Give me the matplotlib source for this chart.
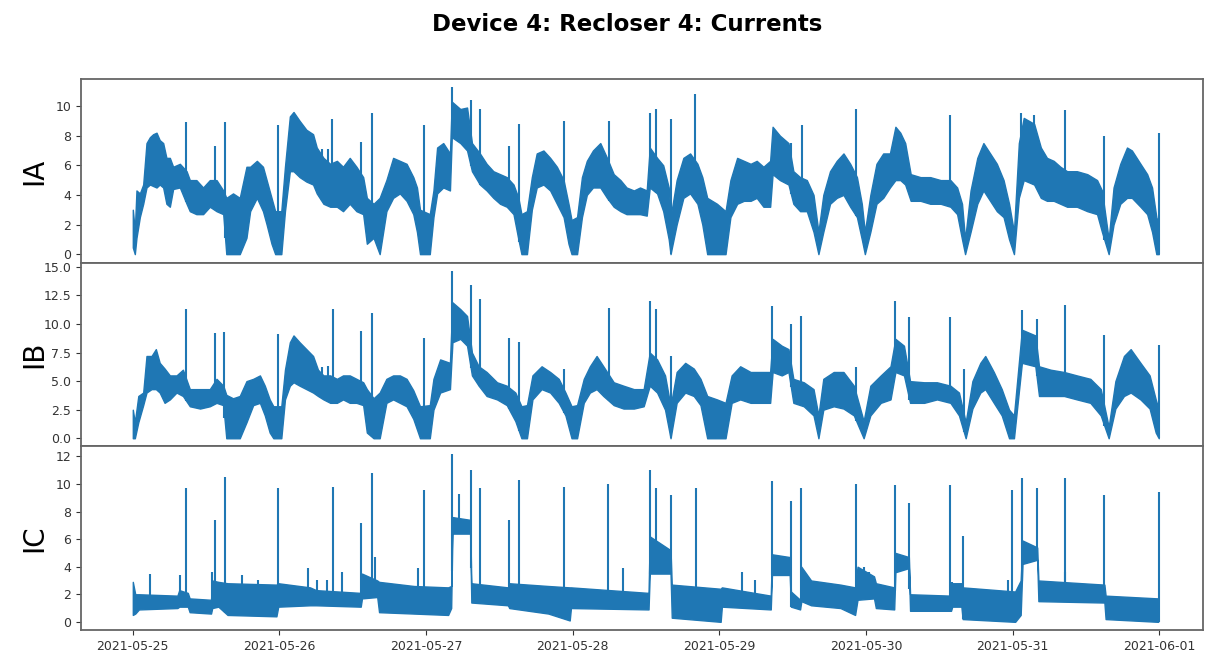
import matplotlib
matplotlib.use("Agg")
import matplotlib.pyplot as plt
import numpy as np
import pandas as pd

start = pd.Timestamp("2021-05-25 00:00")

# envelope of each phase current: hours since start, low, high
ia_h = [0.0, 0.33, 0.6, 1.15, 1.7, 2.24, 2.8, 3.33, 3.88, 4.4,
        4.97, 5.5, 6.06, 6.6, 7.7, 8.8, 9.33, 10.4, 11.5, 12.6,
        13.7, 14.8, 15.3, 16.4, 17.5, 18.6, 19.2, 20.3, 21.3, 21.9,
        22.7, 23.3, 24.3, 24.9, 25.7, 26.3, 27.3, 28.4, 29.5, 30.1,
        31.2, 32.3, 33.4, 34.4, 35.5, 36.6, 37.7, 38.3, 39.4, 40.4,
        41.5, 42.6, 43.7, 44.8, 45.9, 46.5, 47.0, 48.6, 49.2, 49.8,
        50.8, 51.9, 52.2, 53.6, 54.7, 55.5, 56.8, 57.9, 59.0, 60.1,
        61.2, 62.3, 63.1, 63.6, 64.5, 65.3, 66.1, 67.2, 68.3, 69.4,
        70.5, 71.3, 71.8, 72.7, 73.5, 74.3, 75.3, 76.5, 77.6, 78.7,
        79.8, 80.8, 82.0, 83.0, 84.1, 84.6, 85.8, 86.8, 87.7, 88.0,
        89.0, 90.1, 91.2, 92.4, 93.2, 94.0, 95.6, 97.0, 97.8, 98.9,
        100.0, 101.1, 102.1, 103.2, 104.3, 104.7, 105.9, 107.3, 108.1, 109.2,
        110.3, 111.4, 112.2, 113.0, 114.1, 115.2, 116.3, 117.4, 118.5, 119.3,
        119.8, 120.7, 121.7, 122.8, 123.9, 124.8, 125.6, 126.4, 127.3, 128.9,
        130.5, 132.2, 133.8, 134.9, 135.7, 136.2, 137.1, 138.2, 139.2, 140.3,
        141.4, 142.5, 143.4, 144.2, 145.0, 145.8, 147.5, 148.6, 149.6, 150.7,
        151.8, 152.9, 154.5, 156.2, 157.8, 158.6, 159.7, 160.5, 161.6, 162.7,
        163.5, 164.9, 166.0, 166.8, 167.5, 167.9]
ia_lo = [0.45, 0.0, 1.1, 2.5, 3.4, 4.5, 4.7, 4.6, 4.5, 4.7,
         4.5, 3.4, 3.2, 4.4, 4.5, 3.4, 2.9, 2.7, 2.7, 3.2,
         2.9, 2.7, 0.0, 0.0, 0.0, 1.1, 2.9, 3.8, 2.9, 2.0,
         0.7, 0.0, 0.0, 2.9, 5.6, 5.6, 5.2, 4.9, 4.7, 4.1,
         3.4, 3.2, 3.2, 2.9, 3.4, 2.9, 2.7, 0.7, 1.1, 0.0,
         2.9, 3.8, 4.1, 3.6, 2.7, 1.5, 0.0, 0.0, 2.5, 4.1,
         4.5, 4.3, 7.9, 7.5, 7.0, 5.6, 4.7, 4.3, 3.8, 3.4,
         3.2, 2.7, 1.0, 0.0, 0.0, 3.0, 4.5, 4.7, 4.3, 3.4,
         2.5, 0.7, 0.0, 0.0, 2.5, 4.0, 4.5, 4.5, 3.8, 3.2,
         2.9, 2.7, 2.7, 2.7, 2.6, 4.5, 4.1, 2.9, 1.0, 0.0,
         2.0, 3.8, 4.1, 3.4, 2.0, 0.0, 0.0, 0.0, 2.5, 3.4,
         3.6, 3.6, 3.8, 3.2, 3.2, 5.4, 5.0, 4.7, 3.4, 2.9,
         2.9, 1.5, 0.0, 1.5, 3.4, 3.8, 4.0, 3.2, 2.5, 1.0,
         0.0, 1.5, 3.4, 3.8, 4.5, 5.0, 5.0, 4.7, 3.6, 3.6,
         3.4, 3.4, 3.2, 2.7, 1.0, 0.0, 1.5, 3.4, 4.3, 3.6,
         2.9, 2.5, 1.0, 0.0, 3.8, 5.0, 4.7, 3.8, 3.6, 3.6,
         3.4, 3.2, 3.2, 2.9, 2.7, 1.5, 0.0, 2.0, 3.4, 3.8,
         3.8, 3.2, 2.7, 1.5, 0.0, 0.0]
ia_hi = [3.0, 1.6, 4.3, 4.1, 4.7, 7.5, 7.9, 8.1, 8.2, 7.7,
         7.5, 6.5, 6.5, 5.9, 6.1, 5.6, 5.0, 5.0, 4.5, 5.0,
         5.0, 4.3, 3.8, 4.1, 3.8, 5.9, 5.9, 6.3, 5.9, 5.0,
         3.8, 2.9, 2.9, 5.9, 9.3, 9.6, 9.0, 8.4, 8.1, 7.2,
         6.5, 6.1, 6.3, 5.9, 6.5, 5.9, 5.2, 3.8, 3.4, 3.8,
         5.0, 6.5, 6.3, 6.1, 5.2, 4.5, 3.0, 2.7, 4.3, 7.2,
         7.5, 6.8, 10.3, 9.8, 9.9, 7.5, 6.8, 6.1, 5.6, 5.4,
         5.2, 4.7, 3.8, 2.7, 2.9, 5.2, 6.8, 7.0, 6.5, 5.9,
         5.0, 3.4, 2.3, 2.5, 5.2, 6.3, 7.0, 7.5, 6.5, 5.4,
         5.0, 4.5, 4.3, 4.5, 4.3, 7.2, 6.5, 6.0, 4.5, 2.5,
         5.0, 6.5, 6.8, 6.1, 5.2, 3.8, 3.4, 2.9, 5.0, 6.5,
         6.3, 6.1, 6.3, 5.9, 6.3, 8.6, 8.0, 7.5, 5.6, 5.2,
         5.0, 4.0, 1.5, 4.0, 5.6, 6.3, 6.8, 6.1, 5.2, 3.4,
         1.5, 4.0, 6.1, 6.8, 6.8, 8.6, 8.2, 7.5, 5.4, 5.2,
         5.2, 5.0, 5.0, 4.5, 3.4, 1.0, 4.3, 6.5, 7.5, 6.8,
         6.1, 5.0, 3.4, 1.5, 7.5, 9.2, 8.8, 7.2, 6.5, 6.3,
         5.9, 5.6, 5.6, 5.4, 5.0, 4.3, 1.0, 4.5, 6.1, 7.2,
         7.0, 6.1, 5.4, 4.5, 2.5, 2.0]
ia_spike_h = [8.7, 13.4, 15.1, 23.8, 30.9, 32.0, 32.6, 37.4, 39.1, 47.7, 52.2, 55.3, 56.8,
              61.5, 63.2, 70.5, 78.0, 84.6, 85.7, 88.0, 92.0, 107.7, 109.5, 118.4, 133.8,
              145.3, 147.5, 152.5, 159.0, 168.0]
ia_spike_v = [8.9, 7.3, 8.9, 8.7, 7.1, 7.1, 9.1, 7.6, 9.5, 8.7, 11.3, 10.4, 9.8,
              7.3, 8.8, 9.0, 9.0, 9.5, 9.8, 9.1, 10.8, 7.5, 8.7, 9.8, 9.4,
              9.5, 9.4, 9.7, 8.0, 8.2]

ib_h = [0.0, 0.33, 0.9, 1.7, 2.24, 3.06, 3.77, 4.4, 5.2, 6.06,
        7.15, 8.2, 9.33, 11.0, 12.6, 13.7, 14.8, 15.3, 16.4, 17.5,
        18.6, 19.7, 20.8, 21.6, 22.4, 23.0, 24.3, 24.9, 25.7, 26.3,
        27.3, 28.4, 29.5, 30.3, 31.2, 32.3, 33.4, 34.4, 35.5, 36.6,
        37.7, 38.3, 39.4, 40.4, 41.5, 42.6, 43.7, 44.8, 45.9, 47.0,
        48.6, 49.2, 50.3, 51.9, 52.3, 53.6, 54.7, 55.5, 56.6, 57.9,
        59.6, 61.2, 62.6, 63.6, 64.5, 65.4, 66.9, 68.3, 69.7, 70.8,
        71.8, 72.7, 73.8, 74.8, 75.9, 77.0, 78.7, 80.3, 82.0, 83.6,
        84.6, 85.8, 87.1, 88.0, 89.0, 90.4, 91.8, 92.9, 94.0, 95.6,
        97.0, 98.0, 99.4, 101.1, 102.7, 104.3, 104.7, 106.2, 107.3, 108.1,
        109.8, 111.4, 112.2, 113.0, 114.7, 116.3, 118.0, 119.6, 120.7, 122.4,
        124.0, 124.8, 126.2, 127.2, 129.5, 131.6, 133.8, 135.2, 136.3, 137.4,
        138.7, 139.5, 140.9, 142.2, 143.4, 144.2, 145.5, 147.7, 148.3, 150.2,
        152.4, 154.5, 156.7, 158.4, 159.7, 160.8, 162.2, 163.3, 164.9, 166.4,
        167.4, 167.9]
ib_lo = [0.0, 0.0, 1.4, 2.9, 4.0, 4.3, 4.3, 4.0, 3.1, 3.4,
         4.0, 3.7, 2.8, 2.6, 2.8, 3.1, 2.9, 0.0, 0.0, 0.0,
         1.4, 2.9, 3.1, 2.0, 0.5, 0.0, 0.0, 3.4, 4.6, 4.9,
         4.6, 4.3, 4.0, 3.7, 3.4, 3.1, 3.1, 3.4, 3.1, 3.1,
         2.9, 0.5, 0.0, 0.0, 3.1, 3.4, 3.1, 2.8, 1.7, 0.0,
         0.0, 2.5, 4.0, 4.3, 8.4, 8.7, 8.1, 5.5, 4.6, 3.7,
         3.4, 2.9, 1.5, 0.0, 0.0, 3.4, 4.3, 4.0, 3.1, 2.0,
         0.0, 0.0, 3.1, 4.0, 4.3, 3.7, 2.9, 2.6, 2.6, 2.8,
         4.6, 4.0, 2.5, 0.0, 3.1, 4.0, 3.7, 2.9, 0.0, 0.0,
         0.0, 3.1, 3.4, 3.1, 3.1, 3.1, 5.8, 5.5, 5.8, 3.1,
         2.8, 2.0, 0.0, 2.5, 2.8, 2.6, 2.0, 0.0, 2.0, 3.1,
         3.4, 5.8, 5.5, 3.1, 3.1, 3.4, 3.1, 2.0, 0.0, 2.6,
         4.0, 4.3, 3.1, 2.0, 0.0, 0.0, 6.6, 6.3, 3.7, 3.7,
         3.7, 3.4, 3.1, 2.0, 0.0, 2.6, 3.7, 4.0, 3.4, 2.6,
         0.5, 0.0]
ib_hi = [2.5, 1.4, 3.7, 4.0, 7.2, 7.2, 7.8, 6.6, 6.1, 5.5,
         5.5, 6.0, 4.3, 4.3, 4.3, 5.2, 4.6, 3.8, 3.5, 3.7,
         5.0, 5.2, 5.5, 4.6, 3.4, 2.8, 2.8, 6.0, 8.4, 9.0,
         8.4, 7.8, 7.2, 6.0, 5.5, 5.5, 5.2, 5.5, 5.5, 5.2,
         4.9, 4.3, 3.5, 4.0, 5.2, 5.5, 5.5, 5.2, 4.2, 2.8,
         2.9, 5.2, 6.9, 6.6, 11.9, 11.3, 10.7, 7.5, 6.3, 5.8,
         4.9, 4.6, 4.0, 2.8, 2.9, 5.5, 6.3, 5.8, 5.2, 4.0,
         2.8, 2.9, 5.2, 6.3, 7.2, 6.3, 4.9, 4.6, 4.3, 4.3,
         7.5, 6.9, 5.5, 2.8, 5.8, 6.6, 6.1, 5.2, 3.7, 3.4,
         3.1, 5.5, 6.3, 5.8, 5.8, 5.8, 8.7, 8.1, 7.8, 5.2,
         4.9, 4.3, 2.0, 5.2, 5.8, 5.8, 4.6, 1.5, 4.6, 5.5,
         6.3, 8.7, 8.1, 5.0, 4.9, 4.9, 4.6, 4.0, 1.4, 5.0,
         6.6, 7.2, 5.8, 4.3, 2.5, 2.0, 9.5, 9.0, 6.3, 6.0,
         5.8, 5.5, 5.2, 4.3, 1.0, 5.0, 7.2, 7.8, 6.6, 5.5,
         3.4, 2.5]
ib_spike_h = [8.7, 13.4, 15.0, 23.8, 30.9, 32.0, 32.7, 37.4, 39.1, 47.7, 52.2, 55.3, 56.8,
              61.5, 63.2, 70.6, 78.0, 84.6, 85.6, 88.0, 104.6, 107.7, 109.3, 118.4, 124.7,
              127.1, 133.8, 136.0, 145.5, 147.9, 152.5, 159.0, 168.0]
ib_spike_v = [11.3, 9.2, 9.3, 9.1, 6.2, 6.3, 11.3, 9.4, 11.0, 8.8, 14.6, 13.4, 12.2,
              8.8, 8.4, 6.1, 11.4, 12.0, 11.3, 7.2, 11.6, 10.0, 10.7, 6.2, 12.0,
              10.6, 10.6, 6.1, 11.2, 10.4, 11.7, 9.0, 8.2]

ic_h = [0.0, 0.4, 1.0, 7.3, 7.6, 9.0, 9.3, 12.8, 13.0, 14.0,
        15.5, 23.5, 23.8, 29.0, 30.0, 37.3, 37.5, 40.0, 40.3, 46.0,
        51.6, 52.1, 52.3, 55.2, 55.4, 61.4, 61.6, 68.0, 71.5, 71.7,
        84.4, 84.6, 88.0, 88.2, 96.2, 96.4, 104.4, 104.6, 107.5, 107.7,
        109.2, 109.4, 111.0, 115.8, 118.2, 118.6, 121.3, 121.6, 124.6, 124.8,
        127.0, 127.2, 133.9, 134.1, 135.6, 135.8, 144.4, 145.3, 145.6, 148.0,
        148.2, 159.0, 159.2, 167.8]
ic_lo = [0.5, 0.6, 0.9, 1.0, 1.1, 1.1, 0.7, 0.6, 1.0, 1.1,
         0.5, 0.4, 1.1, 1.2, 1.2, 1.1, 1.7, 1.8, 0.7, 0.6,
         0.5, 1.0, 6.4, 6.4, 1.4, 1.2, 1.0, 0.6, 0.1, 1.0,
         0.9, 3.5, 3.5, 0.3, 0.0, 1.1, 0.9, 3.4, 3.4, 1.1,
         0.9, 1.5, 1.2, 1.0, 0.5, 1.6, 1.7, 1.0, 0.9, 3.6,
         3.9, 0.8, 0.8, 1.1, 1.1, 0.2, 0.0, 0.5, 4.2, 4.5,
         1.5, 1.4, 0.2, 0.0]
ic_hi = [2.9, 2.0, 2.0, 1.9, 2.3, 2.1, 1.7, 1.6, 3.0, 2.9,
         2.8, 2.7, 2.8, 2.5, 2.3, 2.1, 3.5, 3.0, 2.9, 2.6,
         2.5, 2.6, 7.6, 7.4, 2.8, 2.5, 2.8, 2.6, 2.5, 2.5,
         2.1, 6.2, 5.2, 2.7, 2.4, 2.5, 1.9, 4.9, 4.7, 2.2,
         1.6, 4.0, 3.0, 2.7, 2.5, 4.0, 3.3, 2.8, 2.5, 5.0,
         4.7, 2.0, 1.9, 2.8, 2.8, 2.5, 2.2, 3.0, 5.9, 5.4,
         3.0, 2.7, 1.9, 1.7]
ic_spike_h = [2.8, 7.8, 8.7, 13.0, 13.4, 15.1, 17.8, 20.5, 23.8, 28.7, 30.1, 31.7, 32.7,
              34.2, 37.4, 39.1, 39.6, 46.7, 47.7, 52.2, 53.4, 55.3, 56.8, 61.5, 63.2, 70.6,
              77.8, 80.3, 84.6, 85.6, 88.0, 92.1, 99.7, 101.9, 104.6, 107.7, 109.3, 118.4,
              119.6, 120.4, 124.7, 127.1, 133.8, 134.1, 135.9, 143.3, 143.9, 145.5, 147.9,
              152.5, 152.6, 159.0, 168.0]
ic_spike_v = [3.5, 3.4, 9.7, 3.6, 7.4, 10.5, 3.4, 3.0, 9.7, 3.9, 3.0, 3.0, 9.8,
              3.6, 7.2, 10.8, 4.7, 3.9, 9.6, 12.2, 9.3, 11.0, 9.7, 7.4, 10.3, 9.8,
              10.0, 3.9, 11.0, 9.7, 9.2, 9.7, 3.6, 3.0, 10.2, 8.8, 9.7, 10.0,
              4.0, 3.6, 9.9, 8.6, 9.9, 2.9, 6.2, 3.0, 9.6, 10.4, 9.7,
              10.4, 3.6, 9.2, 9.4]

labels = ["IA", "IB", "IC"]
ylims = [(-0.59, 11.81), (-0.72, 15.35), (-0.6, 12.72)]
yticks = [np.arange(0, 11, 2), np.arange(0, 15.1, 2.5), np.arange(0, 13, 2)]
series = [
    (ia_h, ia_lo, ia_hi, ia_spike_h, ia_spike_v),
    (ib_h, ib_lo, ib_hi, ib_spike_h, ib_spike_v),
    (ic_h, ic_lo, ic_hi, ic_spike_h, ic_spike_v),
]

color = "#1f77b4"


def to_time(hours):
    return start + pd.to_timedelta(np.asarray(hours), unit="h")


fig, axes = plt.subplots(3, 1, sharex=True, figsize=(12.07, 6.55), dpi=100)
fig.subplots_adjust(left=0.067, right=0.997, bottom=0.038, top=0.879, hspace=0)

for ax, label, ylim, ticks, (h, lo, hi, sh, sv) in zip(axes, labels, ylims, yticks, series):
    t = to_time(h)
    ax.fill_between(t, lo, hi, color=color, linewidth=1.0, edgecolor=color)
    base = np.interp(sh, h, lo)
    ax.vlines(to_time(sh), base, sv, color=color, linewidth=1.5)
    ax.set_ylim(*ylim)
    ax.set_yticks(ticks)
    if label == "IB":
        ax.set_yticklabels([f"{v:.1f}" for v in ticks])
    ax.set_ylabel(label, fontsize=20)
    ax.yaxis.set_label_coords(-0.029, 0.5)
    ax.tick_params(labelsize=9, colors="#333333")
    for s in ax.spines.values():
        s.set_color("#666666")
        s.set_linewidth(1.3)

days = pd.date_range("2021-05-25", "2021-06-01", freq="D")
axes[-1].set_xlim(start - pd.Timedelta(hours=8.5), start + pd.Timedelta(hours=175.2))
axes[-1].set_xticks(days)
axes[-1].set_xticklabels([d.strftime("%Y-%m-%d") for d in days])

fig.text(0.52, 0.962, "Device 4: Recloser 4: Currents", ha="center", va="center",
         fontsize=16.5, fontweight="bold")

plt.savefig("out.png", dpi=100)
plt.close()
